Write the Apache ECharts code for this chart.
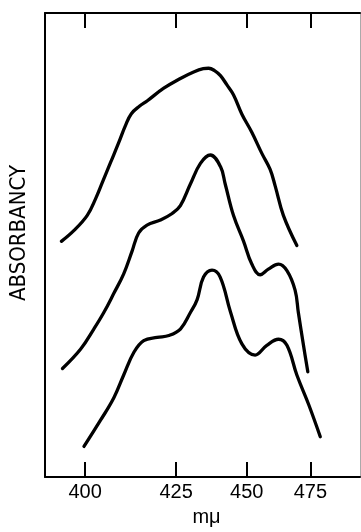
<!DOCTYPE html>
<html>
<head>
<meta charset="utf-8">
<script src="https://cdn.jsdelivr.net/npm/echarts@6/dist/echarts.min.js"></script>
<style>
  html, body { margin: 0; padding: 0; background: #fff; }
  #chart { width: 361px; height: 532px; }
</style>
</head>
<body>
<div id="chart"></div>
<script>
// ---- Data (wavelength in mμ, absorbancy in arbitrary units, curves offset vertically) ----
const tickLabels = [400, 425, 450, 475];
// Printed (non-uniform) spacing between consecutive wavelength ticks on the original chart's axis
const tickGaps = [91.3, 70.7, 63.8];
const xRange = [389, 494.5];
const yRange = [0, 100];

const topWavelength = [393.5, 396.9, 400.6, 402.9, 404.8, 407.0, 409.2, 411.1, 412.7, 414.9, 417.1, 421.6, 426.5, 431.2, 434.6, 436.5, 438.6, 440.7, 443.0, 445.3, 448.3, 452.0, 456.0, 459.2, 461.2, 464.4, 469.7];
const topAbsorbancy = [50.8, 53.1, 56.4, 60.0, 63.6, 67.8, 72.0, 75.8, 78.3, 79.9, 81.1, 83.8, 85.9, 87.3, 88.0, 88.1, 87.6, 86.5, 84.5, 82.4, 78.2, 74.3, 69.7, 66.3, 62.7, 56.4, 49.9];

const midWavelength = [393.8, 398.8, 402.4, 405.1, 407.9, 410.6, 412.9, 414.7, 417.0, 420.7, 423.9, 426.5, 430.0, 433.6, 437.1, 440.7, 442.4, 445.3, 448.9, 452.0, 455.3, 458.5, 462.5, 465.8, 469.0, 470.3, 472.3, 474.0];
const midAbsorbancy = [23.4, 27.6, 31.9, 35.4, 39.6, 43.8, 48.7, 52.6, 54.3, 55.4, 56.8, 58.5, 63.1, 67.6, 69.4, 66.9, 63.1, 56.4, 50.8, 45.9, 43.6, 44.8, 45.9, 44.5, 40.3, 35.4, 28.4, 22.7];

const lowWavelength = [399.7, 404.2, 407.9, 410.6, 413.4, 416.1, 419.8, 423.0, 426.5, 430.0, 432.4, 434.7, 437.7, 440.6, 444.2, 448.3, 453.3, 457.9, 462.5, 465.8, 469.7, 474.3, 478.9];
const lowAbsorbancy = [6.6, 12.2, 17.1, 22.0, 26.9, 29.4, 30.1, 30.5, 31.9, 35.4, 38.2, 43.1, 44.6, 43.1, 35.7, 28.7, 26.3, 28.4, 29.7, 28.4, 22.0, 15.7, 8.7];

// ---- Non-uniform wavelength scale (piecewise linear between printed ticks) ----
const tickPos = [0];
tickGaps.forEach((g, i) => tickPos.push(tickPos[i] + g));
function scaleX(w) {
  const n = tickLabels.length;
  let i = 0;
  if (w <= tickLabels[0]) i = 0;
  else if (w >= tickLabels[n - 1]) i = n - 2;
  else { while (w > tickLabels[i + 1]) i++; }
  const w0 = tickLabels[i], w1 = tickLabels[i + 1];
  return tickPos[i] + (w - w0) / (w1 - w0) * (tickPos[i + 1] - tickPos[i]);
}
const tickU = tickLabels.map(scaleX);
function labelFor(u) {
  for (let i = 0; i < tickU.length; i++) if (Math.abs(tickU[i] - u) < 1e-6) return String(tickLabels[i]);
  return '';
}
function pairs(ws, ys) { return ws.map((w, i) => [scaleX(w), ys[i]]); }

const lineStyle = { color: '#000', width: 3.3, cap: 'round', join: 'round' };
function curve(ws, ys) {
  return {
    type: 'line', data: pairs(ws, ys), showSymbol: false, symbol: 'none',
    smooth: 0.4, lineStyle: lineStyle, silent: true, animation: false,
    xAxisIndex: 0, yAxisIndex: 0
  };
}

const font = '"Liberation Sans", Arial, Helvetica, sans-serif';
const chart = echarts.init(document.getElementById('chart'), null, { renderer: 'canvas' });
chart.setOption({
  animation: false,
  backgroundColor: '#fff',
  grid: { left: 44, right: 1, top: 13, bottom: 44, containLabel: false },
  xAxis: [
    {
      type: 'value', position: 'bottom',
      min: scaleX(xRange[0]), max: scaleX(xRange[1]),
      axisLine: { show: true, onZero: false, lineStyle: { color: '#000', width: 2 } },
      axisTick: { show: true, inside: true, length: 15, customValues: tickU, lineStyle: { color: '#000', width: 2 } },
      axisLabel: { show: true, customValues: tickU, formatter: labelFor, margin: 5, color: '#000', fontSize: 20, fontFamily: font },
      splitLine: { show: false },
      name: 'mμ', nameLocation: 'middle', nameGap: 21,
      nameTextStyle: { color: '#000', fontSize: 20, fontFamily: font, padding: [0, 0, 0, 8] }
    },
    {
      type: 'value', position: 'top',
      min: scaleX(xRange[0]), max: scaleX(xRange[1]),
      axisLine: { show: true, onZero: false, lineStyle: { color: '#000', width: 2 } },
      axisTick: { show: true, inside: true, length: 15, customValues: tickU, lineStyle: { color: '#000', width: 2 } },
      axisLabel: { show: false },
      splitLine: { show: false }
    }
  ],
  yAxis: [
    {
      type: 'value', position: 'left', min: yRange[0], max: yRange[1],
      axisLine: { show: true, onZero: false, lineStyle: { color: '#000', width: 2 } },
      axisTick: { show: false }, axisLabel: { show: false }, splitLine: { show: false },
      name: 'ABSORBANCY', nameLocation: 'middle', nameRotate: 90, nameGap: 15,
      nameTextStyle: { color: '#000', fontSize: 22, fontFamily: '"Liberation Sans Narrow", "Arial Narrow", "DejaVu Sans Condensed", sans-serif', padding: [0, 0, 0, 24] }
    },
    {
      type: 'value', position: 'right', min: yRange[0], max: yRange[1],
      axisLine: { show: true, onZero: false, lineStyle: { color: '#aaa', width: 1 } },
      axisTick: { show: false }, axisLabel: { show: false }, splitLine: { show: false }
    }
  ],
  series: [
    curve(topWavelength, topAbsorbancy),
    curve(midWavelength, midAbsorbancy),
    curve(lowWavelength, lowAbsorbancy)
  ]
});
</script>
</body>
</html>
